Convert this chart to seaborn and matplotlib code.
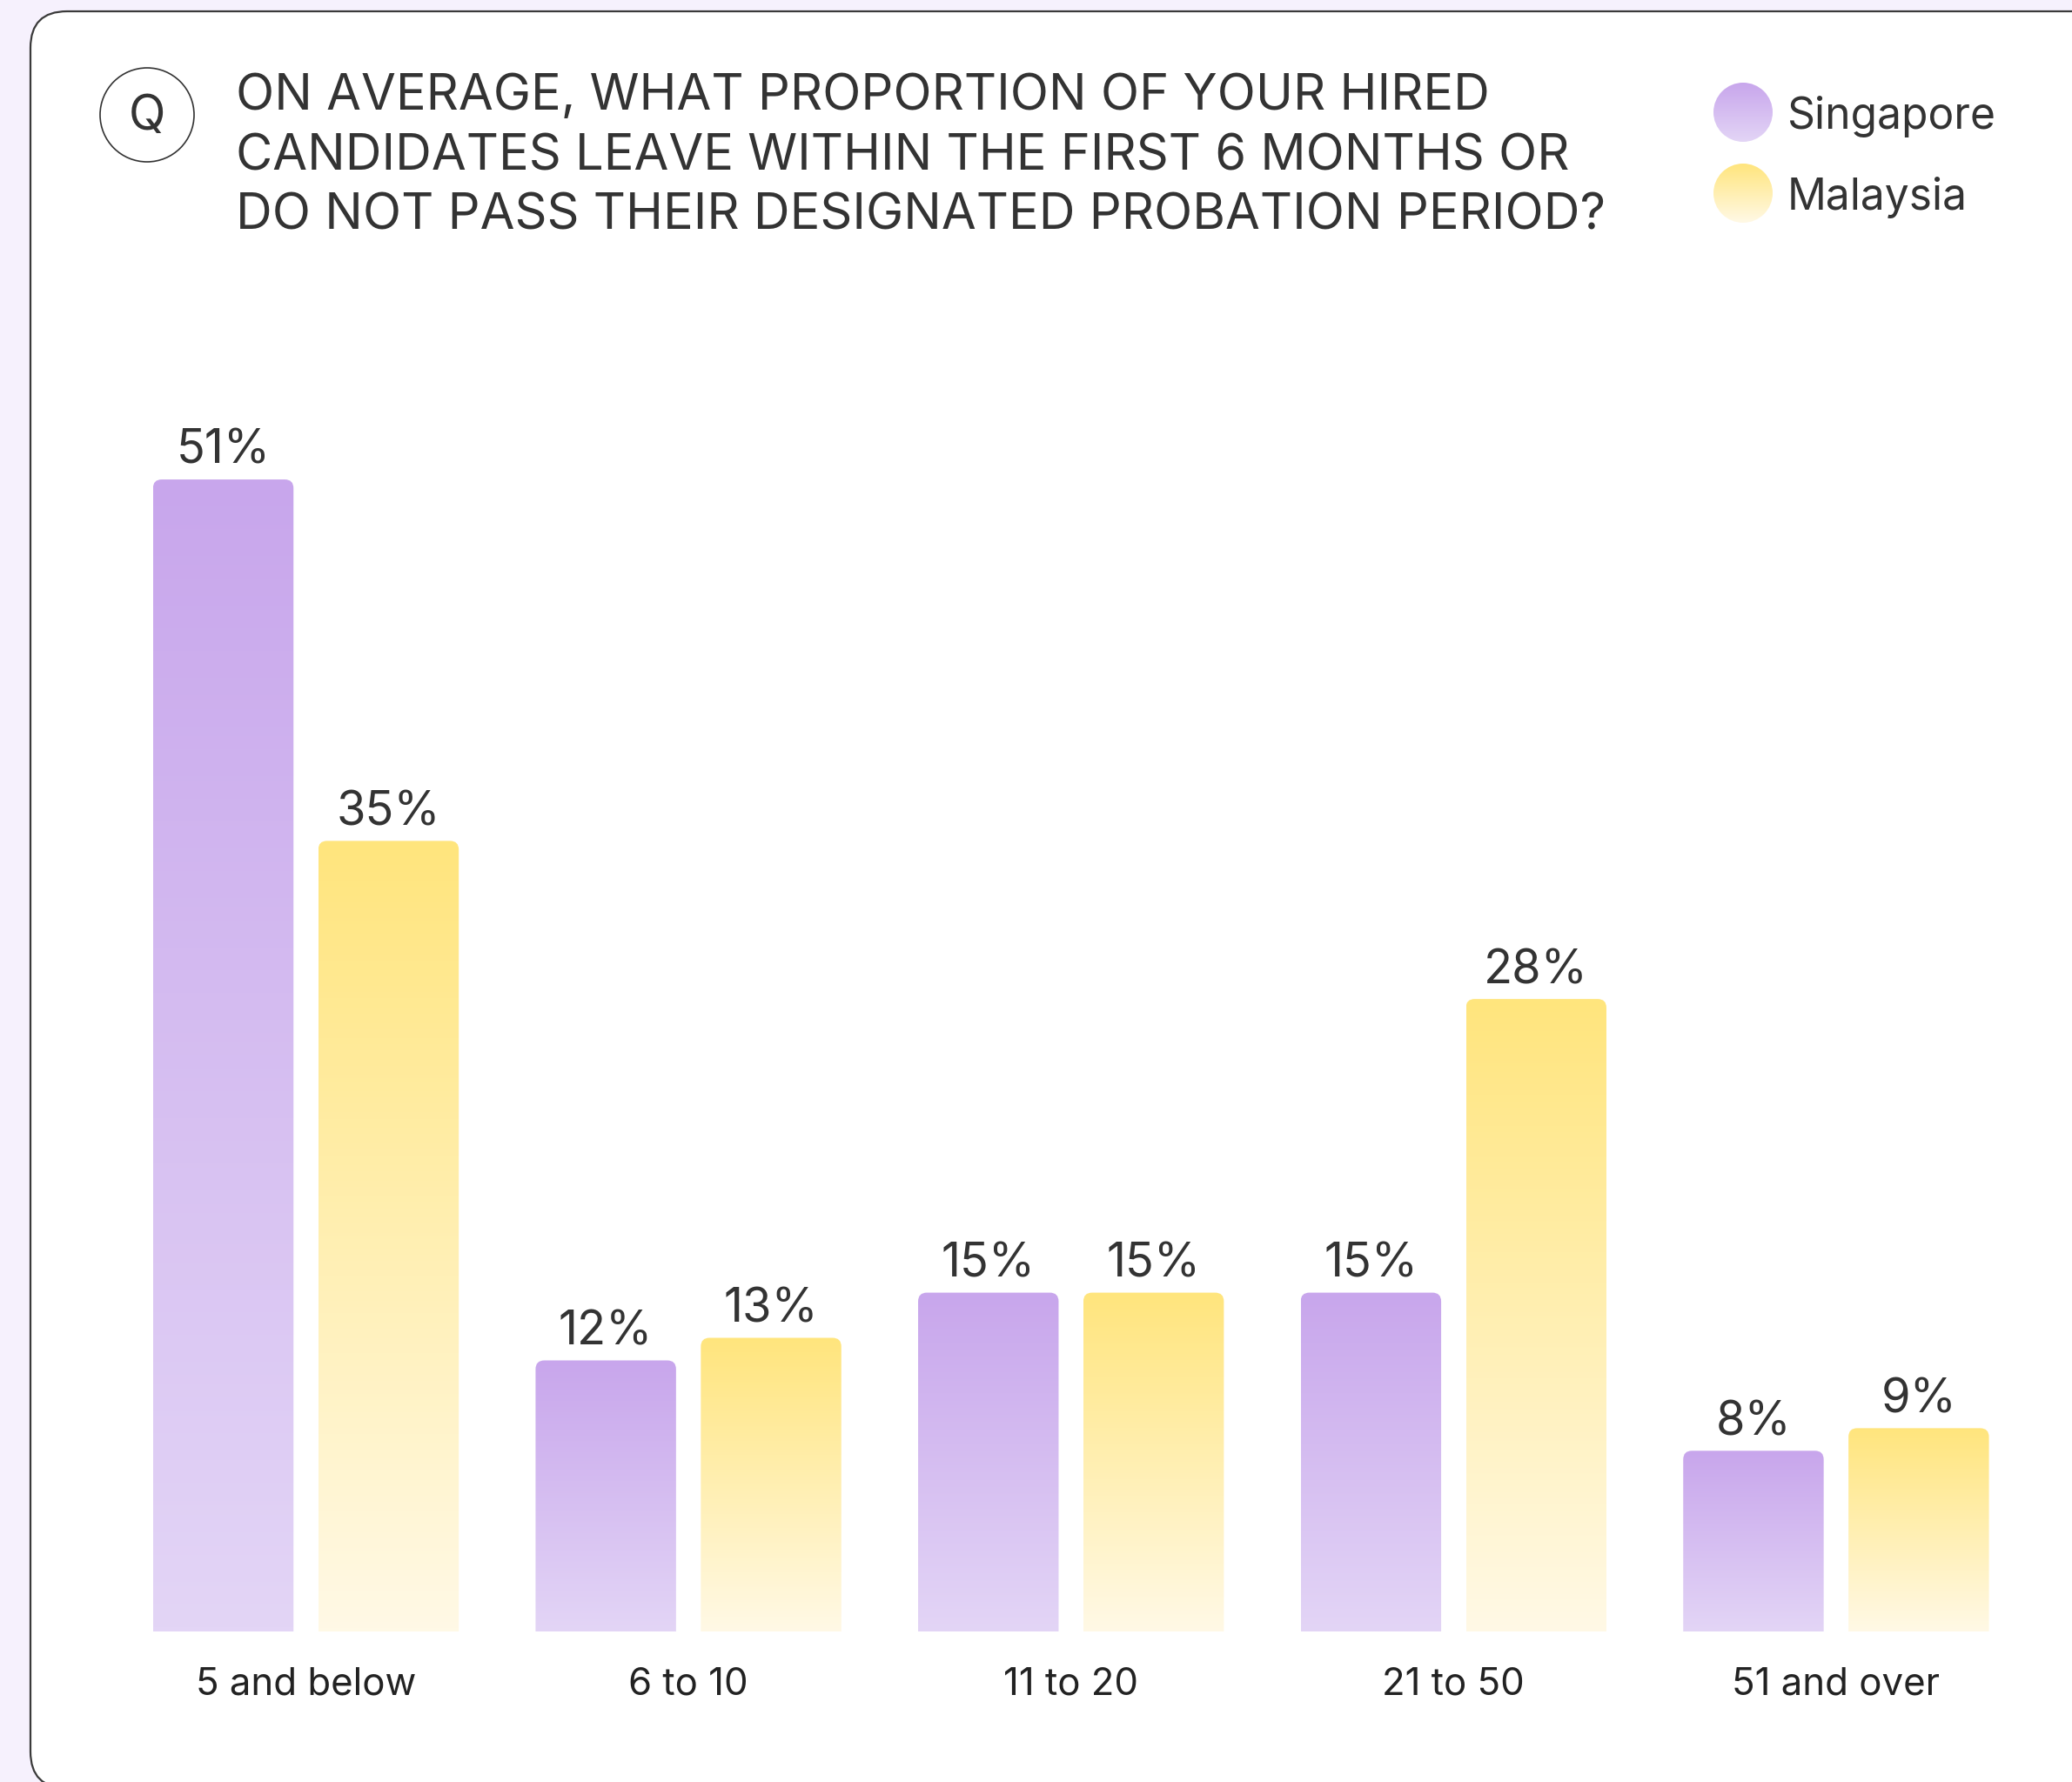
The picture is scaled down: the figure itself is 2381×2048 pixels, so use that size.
import numpy as np
import pandas as pd
import matplotlib
matplotlib.use('Agg')
import matplotlib.pyplot as plt
import seaborn as sns
from matplotlib.patches import FancyBboxPatch, Circle
from matplotlib.colors import LinearSegmentedColormap

sns.set_theme(style='white')
plt.rcParams['font.family'] = ['Inter', 'DejaVu Sans']

# data
groups = ['5 and below', '6 to 10', '11 to 20', '21 to 50', '51 and over']
singapore = [51, 12, 15, 15, 8]
malaysia = [35, 13, 15, 28, 9]
countries = ['Singapore', 'Malaysia']
title_lines = ['ON AVERAGE, WHAT PROPORTION OF YOUR HIRED',
               'CANDIDATES LEAVE WITHIN THE FIRST 6 MONTHS OR',
               'DO NOT PASS THEIR DESIGNATED PROBATION PERIOD?']

# gradient colours (bottom -> top)
grad = {
    'Singapore': ('#E3D5F6', '#C8A6EC'),
    'Malaysia': ('#FFF9E6', '#FFE57D'),
}
cmaps = {k: LinearSegmentedColormap.from_list(k, v) for k, v in grad.items()}

df = pd.DataFrame({
    'group': groups * 2,
    'country': ['Singapore'] * len(groups) + ['Malaysia'] * len(groups),
    'value': singapore + malaysia,
})

W, H = 2381, 2048
DPI = 100
fig = plt.figure(figsize=(W / DPI, H / DPI), dpi=DPI)
fig.patch.set_facecolor('#F6F1FD')

# background / decoration axes in pixel coords (y from top)
bg = fig.add_axes([0, 0, 1, 1])
bg.set_xlim(0, W)
bg.set_ylim(H, 0)
bg.axis('off')
bg.set_zorder(0)

card = FancyBboxPatch((35, 13), W + 200, 2055 - 13,
                      boxstyle='round,pad=0,rounding_size=42',
                      facecolor='white', edgecolor='#3a3a3a', linewidth=1.6)
bg.add_patch(card)

# Q badge
bg.add_patch(Circle((169, 132), 54, facecolor='none', edgecolor='#333333', linewidth=1.2))
bg.text(169, 134, 'Q', fontsize=40, color='#333333', ha='center', va='center')

# title
for i, line in enumerate(title_lines):
    bg.text(271, 126 + i * 69, line, fontsize=41.6, color='#333333',
            ha='left', va='baseline')

# legend with gradient circles
for name, cy in zip(countries, [129, 222]):
    cx, r = 2003, 34
    im = bg.imshow(np.linspace(1, 0, 256).reshape(-1, 1), cmap=cmaps[name],
                   extent=[cx - r, cx + r, cy + r, cy - r], aspect='auto',
                   origin='upper', zorder=2)
    im.set_clip_path(Circle((cx, cy), r, transform=bg.transData))
    bg.text(2054, cy, name, fontsize=35.8, color='#333333', ha='left', va='center_baseline')
bg.set_xlim(0, W)
bg.set_ylim(H, 0)

# main chart axes
px_unit = 439.6
py_unit = 25.96
base_px = 1875
x0 = 351.5 - 0.5 * px_unit
ax = fig.add_axes([x0 / W, (H - base_px) / H, 5 * px_unit / W, 55 * py_unit / H])
ax.set_zorder(1)
ax.patch.set_alpha(0)

sns.barplot(data=df, x='group', y='value', hue='country', hue_order=countries,
            order=groups, width=0.864, gap=0.15, legend=False, ax=ax,
            palette={'Singapore': '#C8A6EC', 'Malaysia': '#FFE57D'})

# labels
for cont, name in zip(ax.containers, countries):
    vals = singapore if name == 'Singapore' else malaysia
    texts = ax.bar_label(cont, labels=[f'{v}%' for v in vals], padding=13,
                         fontsize=39, color='#333333')
    for t in texts:
        t.set_va('baseline')

# replace flat bars with gradient, round-topped bars
aspect = (1 / py_unit) / (1 / px_unit)
for cont, name in zip(ax.containers, countries):
    for p in cont.patches:
        x, w, h = p.get_x(), p.get_width(), p.get_height()
        p.set_visible(False)
        im = ax.imshow(np.linspace(0, 1, 256).reshape(-1, 1), cmap=cmaps[name],
                       extent=[x, x + w, 0, h], origin='lower', aspect='auto', zorder=2)
        clip = FancyBboxPatch((x, -2), w, h + 2,
                              boxstyle=f'round,pad=0,rounding_size={10 / px_unit}',
                              mutation_aspect=aspect, transform=ax.transData,
                              facecolor='none', edgecolor='none')
        ax.add_patch(clip)
        im.set_clip_path(clip)

ax.set_xlim(-0.5, 4.5)
ax.set_ylim(0, 55)
ax.set_xlabel('')
ax.set_ylabel('')
ax.set_yticks([])
for s in ax.spines.values():
    s.set_visible(False)
ax.tick_params(axis='x', length=0, pad=73 * 72 / DPI, labelsize=31.5, labelcolor='#222222')
for lbl in ax.get_xticklabels():
    lbl.set_verticalalignment('baseline')

fig.savefig('out.png', dpi=DPI, facecolor=fig.get_facecolor())
